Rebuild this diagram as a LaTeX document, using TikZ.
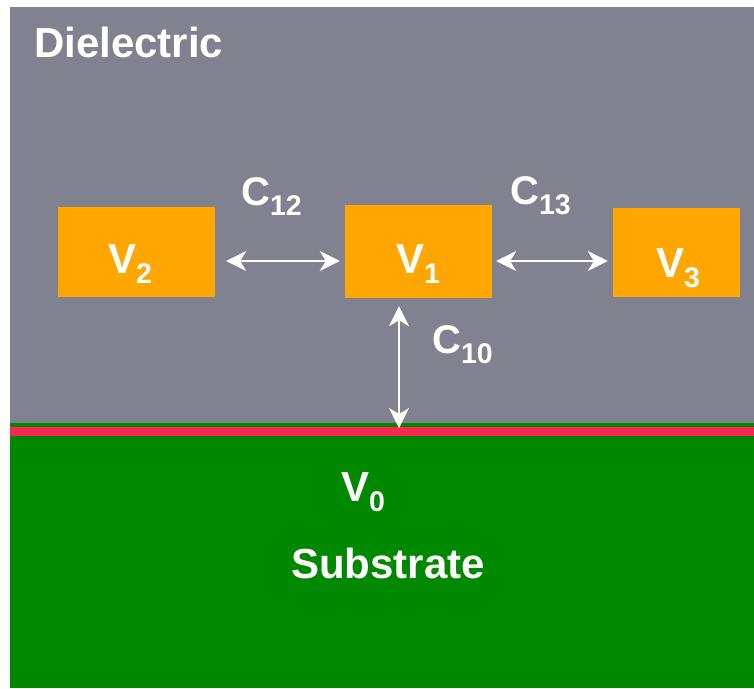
\documentclass[tikz,border=0pt]{standalone}
\usepackage{fontspec}
\setmainfont{Liberation Sans}
\usepackage{xcolor}
\usetikzlibrary{arrows.meta, positioning, calc}

\definecolor{dielgray}{RGB}{128,131,143}
\definecolor{subgreen}{RGB}{0,136,0}
\definecolor{gndred}{RGB}{250,40,80}
\definecolor{condorange}{RGB}{255,166,0}

\newcommand{\subidx}[1]{\raisebox{-10pt}{\fontsize{28.5}{32}\selectfont #1}}

\begin{document}
\begin{tikzpicture}[
    x=1pt, y=-1pt,
    conductor/.style={rectangle, fill=condorange, inner sep=0pt},
    lbl/.style={text=white, font=\fontsize{42}{48}\selectfont\bfseries, inner sep=0pt, anchor=base west},
    caplbl/.style={lbl, font=\fontsize{40}{46}\selectfont\bfseries},
    caparrow/.style={{Stealth[length=20pt, width=20pt, inset=6pt]}-{Stealth[length=20pt, width=20pt, inset=6pt]}, white, line width=2.4pt},
]
\useasboundingbox (0,0) rectangle (754,688);

% Layers
\fill[dielgray] (10,7) rectangle (754,423);
\fill[subgreen] (10,423) rectangle (754,688);
\fill[gndred] (10,427) rectangle (754,436);

% Conductors
\node[conductor, minimum width=157pt, minimum height=90pt] (v2) at (136.5,252) {};
\node[conductor, minimum width=147pt, minimum height=93pt] (v1) at (418.5,251.5) {};
\node[conductor, minimum width=127pt, minimum height=89pt] (v3) at (676.5,252.5) {};
\coordinate (gnd) at (399,428);

% Labels
\node[lbl] (diel) at (34,57) {Dielectric};
\node[lbl] (lv2) at (108,273) {V\subidx{2}};
\node[lbl] (lv1) at (396,273) {V\subidx{1}};
\node[lbl] (lv3) at (656,277) {V\subidx{3}};
\node[lbl] (lv0) at (341,501) {V\subidx{0}};
\node[lbl] (subs) at (291,578) {Substrate};
\node[caplbl] (c12) at (241,205) {C\subidx{12}};
\node[caplbl] (c13) at (510,204) {C\subidx{13}};
\node[caplbl] (c10) at (432,353) {C\subidx{10}};

% Capacitances
\draw[caparrow, shorten <=11pt, shorten >=5pt] (v2.east |- 0,261) -- (v1.west |- 0,261);
\draw[caparrow, shorten <=4pt, shorten >=5pt] (v1.east |- 0,261) -- (v3.west |- 0,261);
\draw[caparrow, shorten <=8pt] (v1.south -| gnd) -- (gnd);

\end{tikzpicture}
\end{document}
